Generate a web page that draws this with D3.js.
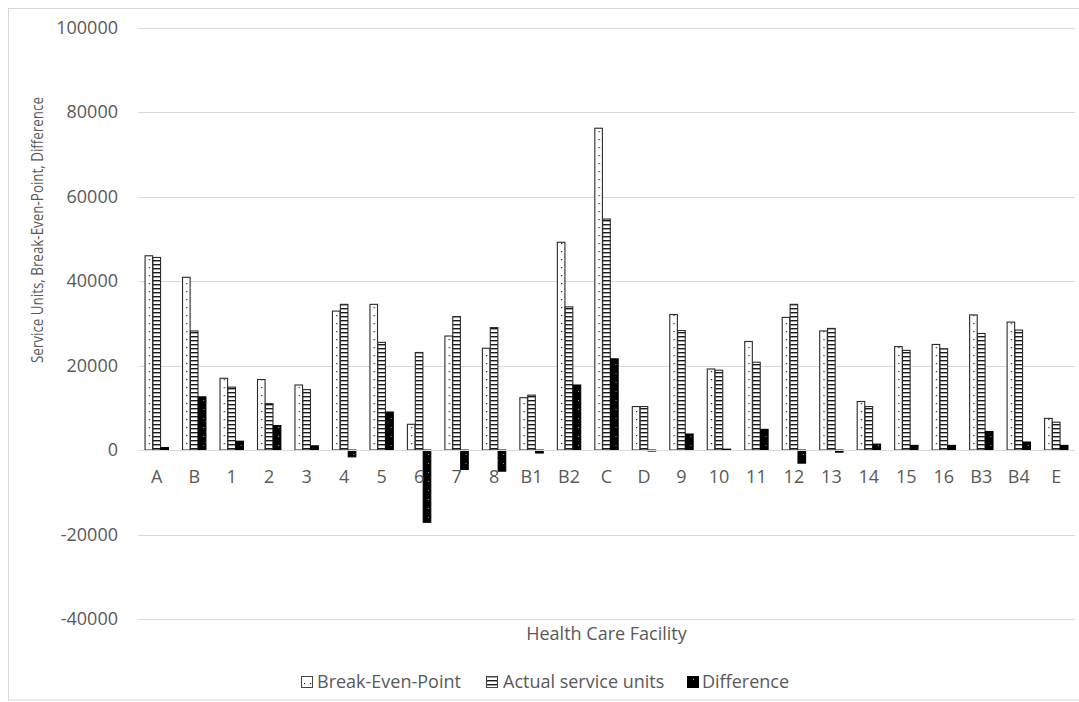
<!DOCTYPE html>
<html>
<head>
<meta charset="utf-8">
<script src="https://cdn.jsdelivr.net/npm/d3@7"></script>
<style>
  html, body { margin: 0; padding: 0; background: #fff; }
  svg { display: block; font-family: "Open Sans", "Noto Sans", sans-serif; }
</style>
</head>
<body>
<svg id="chart" width="1079" height="702"></svg>
<script>
// Health care facilities on the category axis
const facilities = ["A", "B", "1", "2", "3", "4", "5", "6", "7", "8", "B1", "B2", "C", "D",
                    "9", "10", "11", "12", "13", "14", "15", "16", "B3", "B4", "E"];

// Break-even point (service units) per facility
const breakEven = [46000, 40900, 17000, 16700, 15400, 32900, 34500, 6100, 27000, 24100, 12400, 49200, 76200, 10300,
                   32100, 19200, 25700, 31400, 28200, 11500, 24500, 25000, 32000, 30300, 7500];

// Actual service units per facility
const actualUnits = [45600, 28200, 14900, 11000, 14300, 34500, 25500, 23100, 31600, 29000, 13000, 33900, 54700, 10300,
                     28300, 18900, 20800, 34500, 28800, 10300, 23600, 24000, 27600, 28400, 6600];

// Difference between break-even point and actual service units
const difference = [600, 12600, 2100, 5800, 1000, -1600, 9000, -17100, -4600, -5000, -700, 15400, 21600, -200,
                    3800, 200, 4900, -3100, -500, 1400, 1100, 1100, 4400, 1900, 1100];

const seriesNames = ["Break-Even-Point", "Actual service units", "Difference"];
const yTicks = [-40000, -20000, 0, 20000, 40000, 60000, 80000, 100000];

const svg = d3.select("#chart");
const textColor = "#595959";
const gridColor = "#d9d9d9";
const fontFamily = "'Open Sans', 'Noto Sans', sans-serif";
const fontSize = 18;

// Fill patterns for the three series
const defs = svg.append("defs");

const pDot = defs.append("pattern").attr("id", "patBep")
  .attr("patternUnits", "userSpaceOnUse").attr("width", 6).attr("height", 8);
pDot.append("rect").attr("width", 6).attr("height", 8).attr("fill", "#fff");
pDot.append("rect").attr("x", 4).attr("y", 3).attr("width", 1.2).attr("height", 1.2).attr("fill", "#222");

const pStripe = defs.append("pattern").attr("id", "patActual")
  .attr("patternUnits", "userSpaceOnUse").attr("width", 8).attr("height", 4);
pStripe.append("rect").attr("width", 8).attr("height", 4).attr("fill", "#fff");
pStripe.append("rect").attr("y", 0).attr("width", 8).attr("height", 1.4).attr("fill", "#1a1a1a");

const pDark = defs.append("pattern").attr("id", "patDiff")
  .attr("patternUnits", "userSpaceOnUse").attr("width", 6).attr("height", 9);
pDark.append("rect").attr("width", 6).attr("height", 9).attr("fill", "#000");
pDark.append("rect").attr("x", 3).attr("y", 4).attr("width", 1).attr("height", 1).attr("fill", "#9a9a9a");

const fills = ["url(#patBep)", "url(#patActual)", "url(#patDiff)"];

// Chart area border
svg.append("rect")
  .attr("x", 8.5).attr("y", 8.5)
  .attr("width", 1100).attr("height", 691.5)
  .attr("fill", "none").attr("stroke", gridColor).attr("stroke-width", 1);

// Scales
const plot = { left: 138, right: 1075 };
const y = d3.scaleLinear().domain([-40000, 100000]).range([619, 27.7]);
const x0 = d3.scaleBand().domain(facilities).range([plot.left, plot.right])
  .paddingInner(0.36).paddingOuter(0.18);
const x1 = d3.scaleBand().domain(d3.range(3)).range([0, x0.bandwidth()]).padding(0.04);

// Horizontal gridlines
svg.append("g").selectAll("line").data(yTicks).join("line")
  .attr("x1", plot.left).attr("x2", plot.right)
  .attr("y1", d => Math.round(y(d)) + 0.5).attr("y2", d => Math.round(y(d)) + 0.5)
  .attr("stroke", gridColor).attr("stroke-width", 1);

// Y axis tick labels
const yAxis = d3.axisLeft(y).tickValues(yTicks).tickSize(0).tickPadding(0).tickFormat(d => String(d));
const gy = svg.append("g").attr("transform", "translate(118,0)").call(yAxis);
gy.select(".domain").remove();
gy.selectAll("text").attr("fill", textColor).attr("font-size", fontSize)
  .attr("font-family", fontFamily);

// Bars
const rows = facilities.map((f, i) => ({ f, vals: [breakEven[i], actualUnits[i], difference[i]] }));
const groups = svg.append("g").selectAll("g").data(rows).join("g")
  .attr("transform", d => `translate(${x0(d.f)},0)`);
groups.selectAll("rect").data(d => d.vals.map((v, k) => ({ v, k }))).join("rect")
  .attr("x", d => x1(d.k))
  .attr("width", x1.bandwidth())
  .attr("y", d => y(Math.max(0, d.v)))
  .attr("height", d => Math.max(1, Math.abs(y(d.v) - y(0))))
  .attr("fill", d => fills[d.k])
  .attr("stroke", d => d.k === 2 ? "#000" : "#2a2a2a")
  .attr("stroke-width", 1.1);

// Category axis line at zero
svg.append("line")
  .attr("x1", plot.left).attr("x2", plot.right)
  .attr("y1", Math.round(y(0)) + 0.5).attr("y2", Math.round(y(0)) + 0.5)
  .attr("stroke", gridColor).attr("stroke-width", 1);

// Category labels just under the zero line
const xAxis = d3.axisBottom(x0).tickSize(0).tickPadding(0);
const gx = svg.append("g").attr("transform", `translate(0,${y(0) + 20})`).call(xAxis);
gx.select(".domain").remove();
gx.selectAll("text").attr("fill", textColor).attr("font-size", fontSize)
  .attr("font-family", fontFamily);

// Axis titles
svg.append("text")
  .attr("transform", "translate(43,230) rotate(-90)")
  .attr("text-anchor", "middle")
  .attr("fill", textColor).attr("font-size", 17)
  .attr("textLength", 266).attr("lengthAdjust", "spacingAndGlyphs")
  .text("Service Units, Break-Even-Point, Difference");

svg.append("text")
  .attr("x", (plot.left + plot.right) / 2).attr("y", 640)
  .attr("text-anchor", "middle")
  .attr("fill", textColor).attr("font-size", fontSize)
  .text("Health Care Facility");

// Legend
const legendItems = [
  { name: seriesNames[0], sx: 301, tx: 317 },
  { name: seriesNames[1], sx: 486, tx: 503 },
  { name: seriesNames[2], sx: 687, tx: 702 }
];
const lg = svg.append("g");
legendItems.forEach((it, k) => {
  lg.append("rect")
    .attr("x", it.sx + 0.5).attr("y", 676.5).attr("width", 11).attr("height", 11)
    .attr("fill", fills[k]).attr("stroke", k === 2 ? "#000" : "#444").attr("stroke-width", 1);
  lg.append("text")
    .attr("x", it.tx).attr("y", 688)
    .attr("fill", textColor).attr("font-size", fontSize)
    .text(it.name);
});
</script>
</body>
</html>
